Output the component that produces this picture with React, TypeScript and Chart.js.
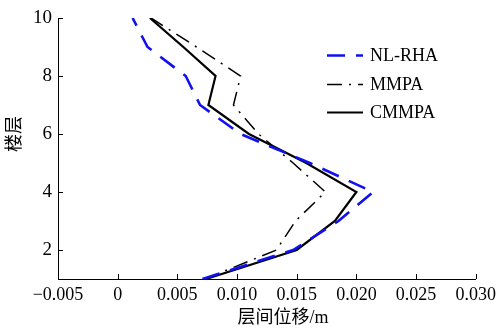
import React, { useEffect, useRef } from "react";
import { Chart, registerables } from "chart.js";

Chart.register(...registerables);

// Storey index (vertical axis)
const floors = [1, 2, 3, 4, 5, 6, 7, 8, 9, 10];

// Inter-storey drift (m) per storey
const nlRha = [0.0071, 0.0147, 0.0185, 0.0214, 0.0161, 0.0103, 0.0069, 0.0057, 0.0025, 0.00125];
const mmpa = [0.0073, 0.0133, 0.0149, 0.0174, 0.0147, 0.0118, 0.0097, 0.0103, 0.0066, 0.0028];
const cmmpa = [0.0074, 0.015, 0.0182, 0.02, 0.0158, 0.011, 0.0076, 0.0082, 0.0055, 0.0027];

const seriesNames = ["NL-RHA", "MMPA", "CMMPA"];

const xTicks = [-0.005, 0, 0.005, 0.01, 0.015, 0.02, 0.025, 0.03];
const yTicks = [2, 4, 6, 8, 10];

const xTitle = "层间位移/m";
const yTitle = "楼层";

const SERIF = '"Liberation Serif", "Noto Sans CJK SC", serif';

Chart.defaults.font.family = SERIF;

const toPoints = (xs: number[]) => xs.map((x, i) => ({ x, y: floors[i] }));

const fmtX = (v: number) => {
  if (Math.abs(v) < 1e-9) return "0";
  const s = Math.abs(v).toFixed(3);
  return v < 0 ? "\u2212" + s : s;
};

// Inward tick marks, axis titles and the in-plot legend
const decorPlugin = {
  id: "decor",
  beforeDatasetsDraw(chart: any) {
    const { ctx, scales, chartArea } = chart;
    const xs = scales.x;
    const ys = scales.y;
    ctx.save();
    ctx.strokeStyle = "#000";
    ctx.lineWidth = 1;
    ctx.beginPath();
    xTicks.forEach((t) => {
      const px = Math.round(xs.getPixelForValue(t)) + 0.5;
      ctx.moveTo(px, chartArea.bottom);
      ctx.lineTo(px, chartArea.bottom - 5);
    });
    yTicks.forEach((t) => {
      const py = Math.round(ys.getPixelForValue(t)) + 0.5;
      ctx.moveTo(chartArea.left, py);
      ctx.lineTo(chartArea.left + 5, py);
    });
    ctx.stroke();
    ctx.restore();
  },
  afterDraw(chart: any) {
    const { ctx } = chart;
    ctx.save();
    ctx.fillStyle = "#000";
    ctx.textAlign = "center";
    ctx.textBaseline = "middle";
    ctx.font = `18px ${SERIF}`;
    ctx.fillText(xTitle, 283, 318);
    ctx.translate(15, 134);
    ctx.rotate(-Math.PI / 2);
    ctx.fillText(yTitle, 0, 0);
    ctx.restore();

    // legend
    ctx.save();
    const rows = [55, 84, 112];
    chart.data.datasets.forEach((ds: any, i: number) => {
      const y = rows[i] + 0.5;
      ctx.strokeStyle = ds.borderColor;
      ctx.lineWidth = ds.borderWidth;
      ctx.setLineDash(ds.borderDash || []);
      ctx.beginPath();
      ctx.moveTo(327, y);
      ctx.lineTo(363, y);
      ctx.stroke();
      ctx.setLineDash([]);
      ctx.fillStyle = "#000";
      ctx.font = `18px ${SERIF}`;
      ctx.textAlign = "left";
      ctx.textBaseline = "middle";
      ctx.fillText(ds.label, 370, rows[i] + 1);
    });
    ctx.restore();
  },
};

export default function App() {
  const canvasRef = useRef<HTMLCanvasElement | null>(null);

  useEffect(() => {
    if (!canvasRef.current) return;
    const chart = new Chart(canvasRef.current, {
      type: "scatter",
      data: {
        datasets: [
          {
            label: seriesNames[0],
            data: toPoints(nlRha),
            showLine: true,
            borderColor: "#1010f0",
            backgroundColor: "#1010f0",
            borderWidth: 2.6,
            borderDash: [18, 11],
            pointRadius: 0,
          },
          {
            label: seriesNames[1],
            data: toPoints(mmpa),
            showLine: true,
            borderColor: "#000",
            backgroundColor: "#000",
            borderWidth: 1.5,
            borderDash: [15, 7, 2, 7],
            pointRadius: 0,
          },
          {
            label: seriesNames[2],
            data: toPoints(cmmpa),
            showLine: true,
            borderColor: "#000",
            backgroundColor: "#000",
            borderWidth: 2.2,
            pointRadius: 0,
          },
        ],
      },
      options: {
        animation: false,
        responsive: false,
        devicePixelRatio: 1,
        layout: { padding: { top: 18, right: 23, left: 0, bottom: 0 } },
        plugins: { legend: { display: false }, tooltip: { enabled: false } },
        scales: {
          x: {
            type: "linear",
            min: -0.005,
            max: 0.03,
            afterBuildTicks: (s: any) => {
              s.ticks = xTicks.map((value) => ({ value }));
            },
            afterFit: (s: any) => {
              s.height = 53;
            },
            ticks: {
              callback: (v: any) => fmtX(Number(v)),
              color: "#000",
              padding: 5,
              maxRotation: 0,
              autoSkip: false,
              font: { family: SERIF, size: 18 },
            },
            grid: { display: false, drawTicks: false },
            border: { display: true, color: "#000", width: 1 },
          },
          y: {
            type: "linear",
            min: 1,
            max: 10,
            afterBuildTicks: (s: any) => {
              s.ticks = yTicks.map((value) => ({ value }));
            },
            afterFit: (s: any) => {
              s.width = 58;
            },
            ticks: {
              color: "#000",
              padding: 6,
              autoSkip: false,
              font: { family: SERIF, size: 19 },
            },
            grid: { display: false, drawTicks: false },
            border: { display: true, color: "#000", width: 1 },
          },
        },
      },
      plugins: [decorPlugin],
    });
    return () => chart.destroy();
  }, []);

  return (
    <div style={{ position: "fixed", left: 0, top: 0, width: 501, height: 332, background: "#fff" }}>
      <canvas ref={canvasRef} width={501} height={332} style={{ display: "block" }} />
    </div>
  );
}
